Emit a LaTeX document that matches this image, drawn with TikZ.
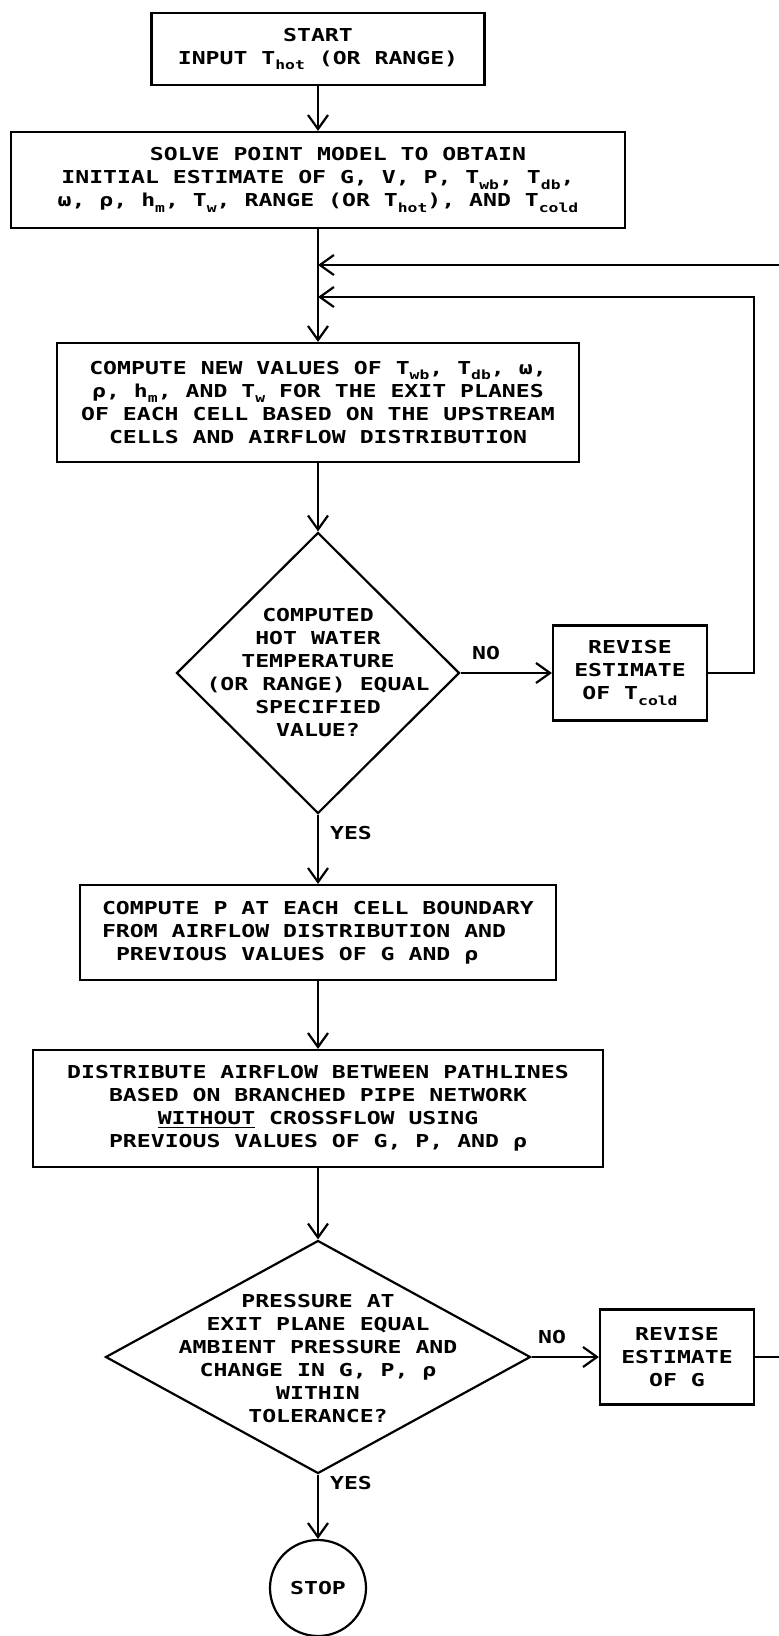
\documentclass[tikz,border=0pt]{standalone}
\usepackage{fontspec}
\usetikzlibrary{arrows.meta,shapes.geometric}
\newfontfamily\plotfont[FakeStretch=1.3]{DejaVu Sans Mono Bold}
\newcommand\lo[1]{\raisebox{-2.6pt}{\fontsize{6.3}{7}\selectfont #1}}
\tikzset{
  plot/.style={font=\plotfont\fontsize{8.9}{11.5}\selectfont},
  box/.style={plot, draw, rectangle, inner sep=0pt, align=center},
  txt/.style={plot, inner sep=0pt, align=center},
  dia/.style={draw, diamond, inner sep=0pt},
  flow/.style={-{Straight Barb[length=7pt,width=10pt]}},
}
\begin{document}
\begin{tikzpicture}[x=0.5pt, y=-0.5pt, line width=1.1pt]
\fill[white] (0,0) rectangle (778,1636);
\useasboundingbox (0,0) rectangle (778,1636);

\node[box, minimum width=333*0.5pt, minimum height=72*0.5pt] (start) at (318,49)
  {START\\INPUT T\lo{hot} (OR RANGE)};
\node[box, minimum width=614*0.5pt, minimum height=96*0.5pt] (b2) at (318,180)
  {\hspace*{20pt}SOLVE POINT MODEL TO OBTAIN\\INITIAL ESTIMATE OF G, V, P, T\lo{wb}, T\lo{db},\\ω, ρ, h\lo{m}, T\lo{w}, RANGE (OR T\lo{hot}), AND T\lo{cold}};
\node[box, minimum width=522*0.5pt, minimum height=119*0.5pt] (b3) at (318,402.5)
  {COMPUTE NEW VALUES OF T\lo{wb}, T\lo{db}, ω,\\ρ, h\lo{m}, AND T\lo{w} FOR THE EXIT PLANES\\OF EACH CELL BASED ON THE UPSTREAM\\CELLS AND AIRFLOW DISTRIBUTION};
\node[dia, minimum width=283*0.5pt, minimum height=281*0.5pt] (d1) at (318,673) {};
\node[txt] (d1t) at (318,673)
  {COMPUTED\\HOT WATER\\TEMPERATURE\\(OR RANGE) EQUAL\\SPECIFIED\\VALUE?};
\node[box, minimum width=154*0.5pt, minimum height=95*0.5pt] (r1) at (630,673)
  {REVISE\\ESTIMATE\\OF T\lo{cold}};
\node[box, align=left, minimum width=476*0.5pt, minimum height=95*0.5pt] (b4) at (318,932.5)
  {COMPUTE P AT EACH CELL BOUNDARY\\FROM AIRFLOW DISTRIBUTION AND\\\hspace*{7pt}PREVIOUS VALUES OF G AND ρ};
\node[box, minimum width=570*0.5pt, minimum height=117*0.5pt] (b5) at (318,1108.5)
  {DISTRIBUTE AIRFLOW BETWEEN PATHLINES\\BASED ON BRANCHED PIPE NETWORK\\\underline{WITHOUT} CROSSFLOW USING\\PREVIOUS VALUES OF G, P, AND ρ};
\node[dia, minimum width=425*0.5pt, minimum height=233*0.5pt] (d2) at (318,1357) {};
\node[txt] (d2t) at (318,1359)
  {PRESSURE AT\\EXIT PLANE EQUAL\\AMBIENT PRESSURE AND\\CHANGE IN G, P, ρ\\WITHIN\\TOLERANCE?};
\node[box, minimum width=154*0.5pt, minimum height=95*0.5pt] (r2) at (677,1357)
  {REVISE\\ESTIMATE\\OF G};
\node[plot, draw, circle, inner sep=0pt, minimum size=96*0.5pt] (stop) at (318,1588) {STOP};

\node[txt] (no1) at (486,653) {NO};
\node[txt] (yes1) at (351,833) {YES};
\node[txt] (no2) at (552,1337) {NO};
\node[txt] (yes2) at (351,1483) {YES};

\coordinate (j1) at (318,265);
\coordinate (j2) at (318,297);
\coordinate (c1) at (790,265);
\coordinate (c2) at (754,297);

\draw[flow] (start.south) -- (b2.north);
\draw[flow] (b2.south) -- (b3.north);
\draw[flow] (r2.east) -| (c1) -- (j1);
\draw[flow] (r1.east) -| (c2) -- (j2);
\draw[flow] (b3.south) -- (d1.north);
\draw[flow] (d1.east) -- (r1.west);
\draw[flow] (d1.south) -- (b4.north);
\draw[flow] (b4.south) -- (b5.north);
\draw[flow] (b5.south) -- (d2.north);
\draw[flow] (d2.east) -- (r2.west);
\draw[flow] (d2.south) -- (stop.north);
\end{tikzpicture}
\end{document}
